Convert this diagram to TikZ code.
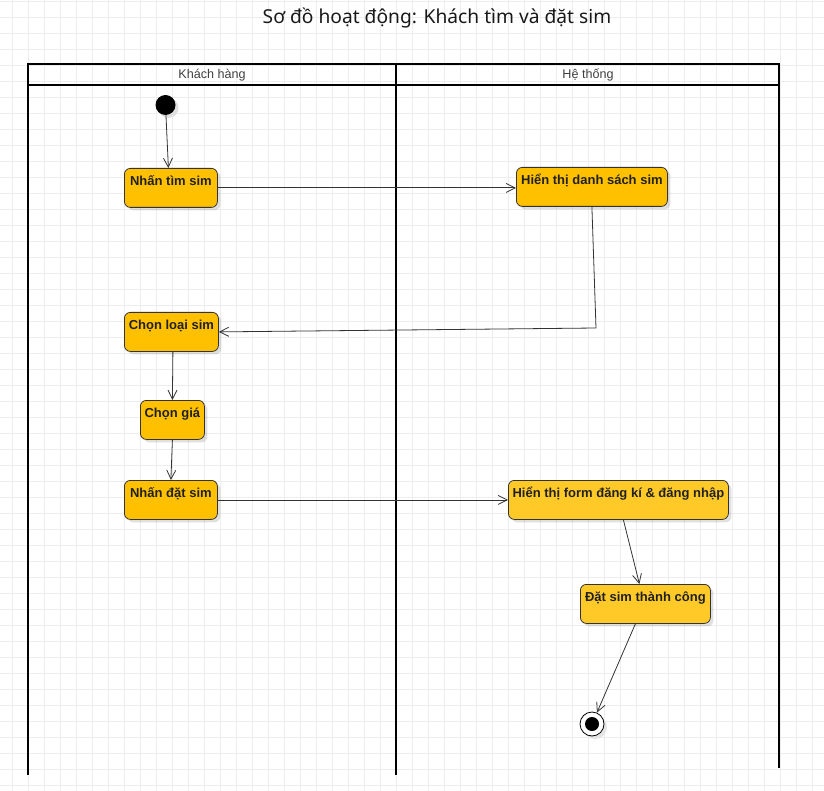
\documentclass[tikz,border=0pt]{standalone}
\usepackage{fontspec}
\setmainfont{Liberation Sans}
\newfontfamily\titlefont{Noto Sans}
\usetikzlibrary{arrows.meta,shadows}
\definecolor{gridc}{HTML}{EDEDED}
\definecolor{actfill}{HTML}{FFC000}
\definecolor{actfilltwo}{HTML}{FFCA28}
\definecolor{actdraw}{HTML}{333333}
\definecolor{edgec}{HTML}{333333}
\begin{document}
\begin{tikzpicture}[x=1pt,y=-1pt,
  act/.style={draw=actdraw, line width=0.8pt, rounded corners=6pt, fill=actfill,
    drop shadow={shadow xshift=3pt, shadow yshift=-3pt, opacity=0.12, fill=black},
    font=\fontsize{13}{15}\selectfont\bfseries, text=black!87,
    inner xsep=0pt, inner ysep=0pt, text height=17pt, text depth=22pt, anchor=north west},
  acttwo/.style={act, fill=actfilltwo},
  lane/.style={line width=1.6pt, draw=black},
  lanetitle/.style={font=\fontsize{12.6}{14}\selectfont, text=black!75},
  flow/.style={draw=edgec, line width=0.8pt, -{Straight Barb[length=9pt,width=9pt]}},
]
\useasboundingbox (0,0) rectangle (824,791);
\fill[white] (0,0) rectangle (824,791);
% grid
\foreach \gx in {12,28,...,812} \draw[gridc, line width=0.6pt] (\gx,0) -- (\gx,791);
\foreach \gy in {1,17,...,785} \draw[gridc, line width=0.6pt] (0,\gy) -- (824,\gy);

% title
\node[font=\titlefont\fontsize{19.2}{23}\selectfont, text=black!90] (title) at (437,18) {Sơ đồ hoạt động: Khách tìm và đặt sim};

% swimlanes
\draw[lane] (28,64) rectangle (779,85);
\draw[lane] (28,64) -- (28,775);
\draw[lane] (396,64) -- (396,775);
\draw[lane] (779,64) -- (779,768);
\node[lanetitle] (laneA) at (212,75) {Khách hàng};
\node[lanetitle] (laneB) at (588,75) {Hệ thống};

% start / end
\fill[black!12] (168.5,108) circle (10pt);
\node[circle, fill=black, inner sep=0pt, minimum size=20pt] (start) at (165.5,105) {};
\fill[black!10] (595,727) circle (12pt);
\node[circle, draw=black, fill=white, line width=0.8pt, inner sep=0pt, minimum size=24pt] (end) at (592,724) {};
\fill[black] (end) circle (7pt);

% actions
\node[act, minimum width=93pt] (n1) at (124,168) {Nhấn tìm sim};
\node[act, minimum width=151pt] (n2) at (516,167) {Hiển thị danh sách sim};
\node[act, minimum width=94pt] (n3) at (124,312) {Chọn loại sim};
\node[act, minimum width=64pt] (n4) at (140,400) {Chọn giá};
\node[act, minimum width=93pt] (n5) at (124,480) {Nhấn đặt sim};
\node[acttwo, minimum width=220pt] (n6) at (508,480) {Hiển thị form đăng kí \& đăng nhập};
\node[acttwo, minimum width=130pt] (n7) at (580,584) {Đặt sim thành công};

% connectors
\coordinate (bend) at (596,328);
\draw[flow] (start) -- ([xshift=-2.5pt]n1.north);
\draw[flow] (n1.east) -- (n1.east -| n2.west);
\draw[flow] (n2.south) -- (bend) -- (n3.east);
\draw[flow] ([xshift=1.5pt]n3.south) -- (n4.north);
\draw[flow] (n4.south) -- (n5.north);
\draw[flow] (n5.east) -- (n5.east -| n6.west);
\draw[flow] ([xshift=5pt]n6.south) -- ([xshift=-6pt]n7.north);
\draw[flow] ([xshift=-10pt]n7.south) -- (end);
\end{tikzpicture}
\end{document}
